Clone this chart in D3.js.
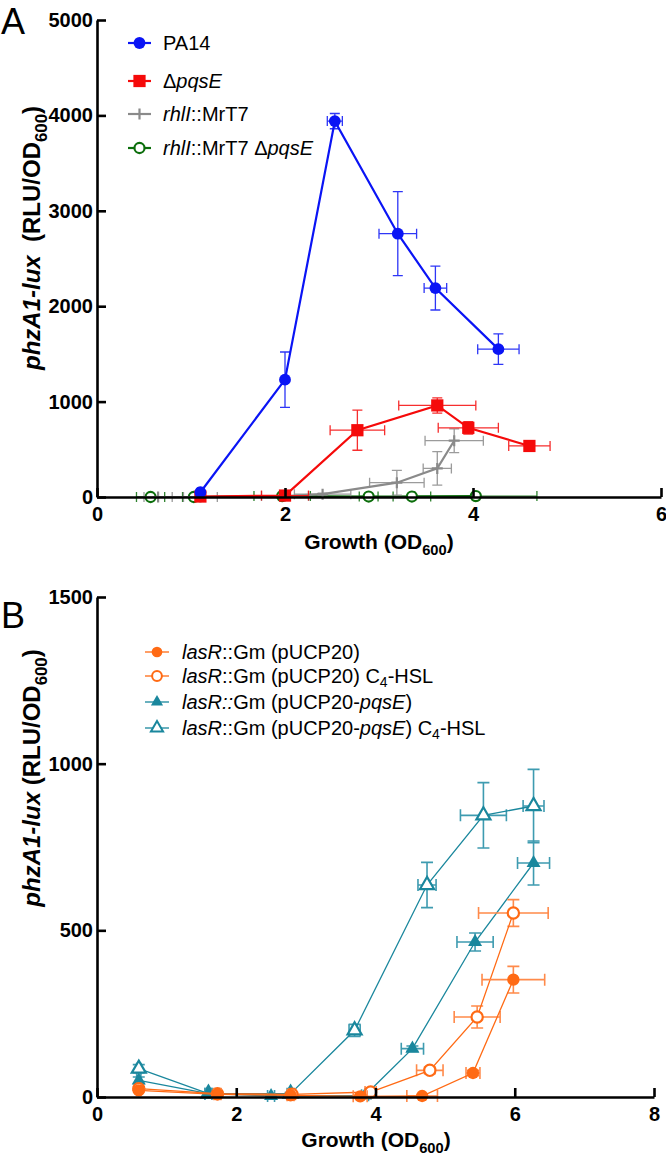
<!DOCTYPE html>
<html><head><meta charset="utf-8">
<script src="https://cdn.jsdelivr.net/npm/d3@7"></script>
<style>body{margin:0;background:#fff}svg{display:block;font-family:"Liberation Sans",Arial,Helvetica,sans-serif}</style>
</head><body><svg id="c" width="666" height="1159"></svg>
<script>
// ---------- Panel A data ----------
const aXTicks = [0, 2, 4, 6];
const aYTicks = [0, 1000, 2000, 3000, 4000, 5000];
const pa14X    = [1.1, 2.0, 2.53, 3.2, 3.6, 4.27];
const pa14Y    = [50, 1230, 3940, 2760, 2190, 1550];
const pa14XErr = [0.03, 0.02, 0.08, 0.2, 0.12, 0.22];
const pa14YErr = [20, 290, 80, 440, 230, 160];
const pqsEX    = [1.1, 2.0, 2.77, 3.62, 3.95, 4.6];
const pqsEY    = [5, 15, 700, 960, 725, 535];
const pqsEXErr = [0.05, 0.25, 0.29, 0.41, 0.32, 0.22];
const pqsEYErr = [5, 10, 210, 80, 65, 25];
const rhlX     = [0.65, 1.1, 2.0, 2.4, 3.19, 3.62, 3.8];
const rhlY     = [0, 0, 10, 30, 150, 300, 590];
const rhlXErr  = [0.15, 0.18, 0.25, 0.3, 0.29, 0.15, 0.31];
const rhlYErr  = [0, 0, 5, 10, 130, 175, 125];
const rhlPqsX    = [0.57, 1.03, 1.97, 2.89, 3.35, 4.03];
const rhlPqsY    = [0, 0, 10, 5, 5, 10];
const rhlPqsXErr = [0.15, 0.12, 0.3, 0.1, 0.2, 0.65];
const rhlPqsYErr = [0, 0, 5, 0, 0, 5];

// ---------- Panel B data ----------
const bXTicks = [0, 2, 4, 6, 8];
const bYTicks = [0, 500, 1000, 1500];
const gmX    = [0.6, 1.73, 2.78, 3.78, 4.67, 5.4, 5.98];
const gmY    = [20, 8, 5, 2, 3, 72, 352];
const gmXErr = [0.03, 0.05, 0.05, 0.1, 0.22, 0.1, 0.45];
const gmYErr = [5, 3, 2, 2, 3, 8, 40];
const gmHslX    = [0.6, 1.73, 2.8, 3.93, 4.78, 5.46, 5.98];
const gmHslY    = [25, 10, 8, 15, 80, 240, 552];
const gmHslXErr = [0.03, 0.05, 0.05, 0.08, 0.19, 0.33, 0.5];
const gmHslYErr = [5, 3, 3, 5, 10, 33, 40];
const pqsBX    = [0.6, 1.6, 2.5, 3.85, 4.53, 5.43, 6.27];
const pqsBY    = [50, 10, 3, 5, 145, 465, 702];
const pqsBXErr = [0.03, 0.05, 0.05, 0.05, 0.16, 0.26, 0.23];
const pqsBYErr = [10, 3, 2, 2, 8, 27, 66];
const pqsHslX    = [0.6, 1.6, 2.78, 3.7, 4.74, 5.55, 6.27];
const pqsHslY    = [85, 10, 10, 200, 636, 845, 873];
const pqsHslXErr = [0.03, 0.05, 0.05, 0.08, 0.13, 0.33, 0.15];
const pqsHslYErr = [12, 3, 3, 18, 68, 98, 110];

const svg = d3.select("#c");
const FONT = '"Liberation Sans",Arial,Helvetica,sans-serif';

function zip(xs, ys, xe, ye){ return xs.map((x,i)=>({x, y: ys[i], xe: xe[i], ye: ye[i]})); }

function drawAxes(g, x, y, xt, yt, fs){
  const ax = g.append("g").attr("transform", `translate(0,${y(0)})`)
    .call(d3.axisBottom(x).tickValues(xt).tickSize(-9).tickSizeOuter(0).tickPadding(10).tickFormat(d3.format("d")));
  const ay = g.append("g").attr("transform", `translate(${x(0)},0)`)
    .call(d3.axisLeft(y).tickValues(yt).tickSize(-9).tickSizeOuter(0).tickPadding(4).tickFormat(d3.format("d")));
  [ax, ay].forEach(a => {
    a.select(".domain").attr("stroke", "#000").attr("stroke-width", 2.6);
    a.selectAll(".tick line").attr("stroke", "#000").attr("stroke-width", 2.6);
    a.selectAll(".tick text").attr("fill", "#000").style("font-family", FONT)
      .style("font-size", fs + "px").style("font-weight", "bold");
  });
}

function drawSeries(g, x, y, data, o){
  const eg = g.append("g").attr("stroke", o.ecolor || o.color).attr("stroke-width", o.ew).attr("fill", "none").attr("opacity", o.eop || 1);
  data.forEach(d => {
    const cx = x(d.x), cy = y(d.y);
    if (d.xe > 0){
      const x1 = x(d.x - d.xe), x2 = x(d.x + d.xe);
      eg.append("path").attr("d", `M${x1},${cy}H${x2}M${x1},${cy-o.cap}V${cy+o.cap}M${x2},${cy-o.cap}V${cy+o.cap}`);
    }
    if (d.ye > 0){
      const y1 = y(d.y - d.ye), y2 = y(d.y + d.ye);
      eg.append("path").attr("d", `M${cx},${y1}V${y2}M${cx-o.cap},${y1}H${cx+o.cap}M${cx-o.cap},${y2}H${cx+o.cap}`);
    }
  });
  g.append("path").datum(data)
    .attr("d", d3.line().x(d => x(d.x)).y(d => y(d.y)))
    .attr("fill", "none").attr("stroke", o.color).attr("stroke-width", o.lw);
  const mg = g.append("g");
  data.forEach(d => drawMarker(mg, x(d.x), y(d.y), o));
}

function drawMarker(g, cx, cy, o){
  const t = `translate(${cx},${cy})`;
  if (o.shape === "plus"){
    g.append("path").attr("transform", t).attr("d", `M${-o.size},0H${o.size}M0,${-o.size}V${o.size}`)
      .attr("stroke", o.color).attr("stroke-width", 2.2).attr("fill", "none");
    return;
  }
  const sym = {circle: d3.symbolCircle, square: d3.symbolSquare, triangle: d3.symbolTriangle}[o.shape];
  const p = g.append("path").attr("transform", t).attr("d", d3.symbol(sym, o.area)());
  if (o.open) p.attr("fill", "#fff").attr("stroke", o.color).attr("stroke-width", o.ow || 2.2);
  else p.attr("fill", o.color);
}

function yTitle(g, cx, cy, fs, gap){
  const t = g.append("text").attr("transform", `translate(${cx},${cy}) rotate(-90)`)
    .attr("text-anchor", "middle").style("font-family", FONT).style("font-size", fs + "px").style("font-weight", "bold")
    .attr("fill", "#000").attr("xml:space", "preserve");
  t.append("tspan").style("font-style", "italic").text("phzA1-lux");
  t.append("tspan").text(gap + "(RLU/OD");
  t.append("tspan").attr("dy", fs * 0.3).style("font-size", (fs * 0.7) + "px").text("600");
  t.append("tspan").attr("dy", -fs * 0.3).text(")");
}

function xTitle(g, cx, cy, fs){
  const t = g.append("text").attr("x", cx).attr("y", cy).attr("text-anchor", "middle")
    .style("font-family", FONT).style("font-size", fs + "px").style("font-weight", "bold").attr("fill", "#000");
  t.append("tspan").text("Growth (OD");
  t.append("tspan").attr("dy", fs * 0.3).style("font-size", (fs * 0.7) + "px").text("600");
  t.append("tspan").attr("dy", -fs * 0.3).text(")");
}

// ================= Panel A =================
const gA = svg.append("g");
const xA = d3.scaleLinear().domain([0, 6]).range([97, 661]);
const yA = d3.scaleLinear().domain([0, 5000]).range([497, 20]);

const sA = [
  {name: "pa14", data: zip(pa14X, pa14Y, pa14XErr, pa14YErr), color: "#0a14f5", shape: "circle", area: 110, lw: 2.2, ew: 1.3, cap: 5, eop: 0.85},
  {name: "pqsE", data: zip(pqsEX, pqsEY, pqsEXErr, pqsEYErr), color: "#f50a0a", shape: "square", area: 150, lw: 2.2, ew: 1.3, cap: 5, eop: 0.85},
  {name: "rhl", data: zip(rhlX, rhlY, rhlXErr, rhlYErr), color: "#8a8a8a", shape: "plus", size: 5.5, lw: 2.2, ew: 1.3, cap: 5, eop: 0.85},
  {name: "rhlpqs", data: zip(rhlPqsX, rhlPqsY, rhlPqsXErr, rhlPqsYErr), color: "#0c6e0c", shape: "circle", open: true, area: 80, lw: 2.2, ew: 1.3, cap: 5, eop: 0.85}
];
[...sA].reverse().forEach(s => drawSeries(gA, xA, yA, s.data, s));
drawAxes(gA, xA, yA, aXTicks, aYTicks, 20);
yTitle(gA, 40, 238, 24, "  ");
xTitle(gA, 379, 549, 21);
svg.append("text").attr("x", 1).attr("y", 34).style("font-family", FONT).style("font-size", "36px").attr("fill", "#000").text("A");

// legend A
const legA = [
  {parts: [["PA14", false]]},
  {parts: [["Δ", false], ["pqsE", true]]},
  {parts: [["rhlI", true], ["::MrT7", false]]},
  {parts: [["rhlI", true], ["::MrT7 Δ", false], ["pqsE", true]]}
];
const legAY = [43, 81, 114, 148];
legA.forEach((l, i) => {
  const s = sA[i], yy = legAY[i];
  gA.append("line").attr("x1", 128).attr("x2", 151).attr("y1", yy).attr("y2", yy).attr("stroke", s.color).attr("stroke-width", 2.2);
  drawMarker(gA, 139.5, yy, s);
  const t = gA.append("text").attr("x", 163).attr("y", yy + 7).style("font-family", FONT).style("font-size", "20px").attr("fill", "#000").attr("xml:space", "preserve");
  l.parts.forEach(p => t.append("tspan").style("font-style", p[1] ? "italic" : "normal").text(p[0]));
});

// ================= Panel B =================
const gB = svg.append("g");
const xB = d3.scaleLinear().domain([0, 8]).range([97, 654]);
const yB = d3.scaleLinear().domain([0, 1500]).range([1097, 597]);
const ORANGE = "#ff6a14", TEAL = "#1a879d";
const sB = [
  {data: zip(gmX, gmY, gmXErr, gmYErr), color: ORANGE, ecolor: "#ff8a4a", shape: "circle", area: 120, lw: 1.3, ew: 1.6, cap: 6},
  {data: zip(gmHslX, gmHslY, gmHslXErr, gmHslYErr), color: ORANGE, ecolor: "#ff8a4a", shape: "circle", open: true, area: 100, lw: 1.3, ew: 1.6, cap: 6},
  {data: zip(pqsBX, pqsBY, pqsBXErr, pqsBYErr), color: TEAL, ecolor: "#3e9bb0", shape: "triangle", area: 85, lw: 1.3, ew: 1.6, cap: 6},
  {data: zip(pqsHslX, pqsHslY, pqsHslXErr, pqsHslYErr), color: TEAL, ecolor: "#3e9bb0", shape: "triangle", open: true, area: 85, lw: 1.3, ew: 1.6, cap: 6}
];
[...sB].reverse().forEach(s => drawSeries(gB, xB, yB, s.data, s));
drawAxes(gB, xB, yB, bXTicks, bYTicks, 20);
yTitle(gB, 40, 778, 24, " ");
xTitle(gB, 376, 1147, 21);
svg.append("text").attr("x", 1).attr("y", 628).style("font-family", FONT).style("font-size", "36px").attr("fill", "#000").text("B");

const legB = [
  [["lasR", true], ["::Gm (pUCP20)", false]],
  [["lasR", true], ["::Gm (pUCP20) C", false], ["4", false, true], ["-HSL", false]],
  [["lasR::", true], ["Gm (pUCP20-", false], ["pqsE", true], [")", false]],
  [["lasR", true], ["::Gm (pUCP20-", false], ["pqsE", true], [") C", false], ["4", false, true], ["-HSL", false]]
];
const legBY = [652, 676, 702, 728];
legB.forEach((parts, i) => {
  const s = sB[i], yy = legBY[i];
  gB.append("line").attr("x1", 145).attr("x2", 169).attr("y1", yy).attr("y2", yy).attr("stroke", s.color).attr("stroke-width", 1.3);
  drawMarker(gB, 157, yy, Object.assign({}, s, {area: s.area * 0.75, ow: 2}));
  const t = gB.append("text").attr("x", 182).attr("y", yy + 7).style("font-family", FONT).style("font-size", "20px").attr("fill", "#000");
  let sub = false;
  parts.forEach(p => {
    const ts = t.append("tspan").style("font-style", p[1] ? "italic" : "normal").text(p[0]);
    if (p[2]) { ts.attr("dy", 4).style("font-size", "14px"); sub = true; }
    else if (sub) { ts.attr("dy", -4); sub = false; }
  });
});
</script></body></html>
